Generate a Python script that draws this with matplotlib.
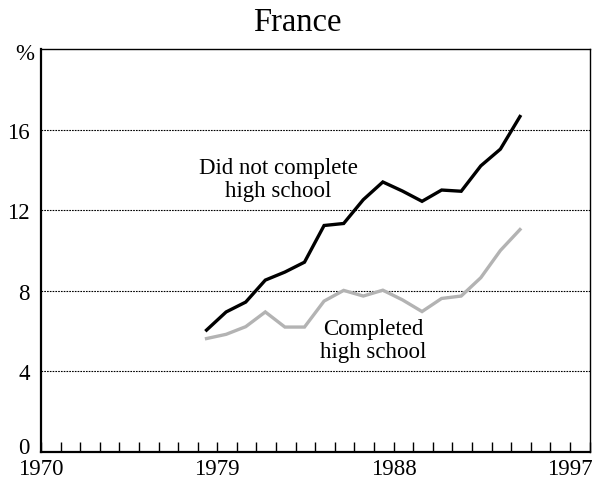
import matplotlib
matplotlib.use("Agg")
import matplotlib.pyplot as plt
import matplotlib.transforms as mtransforms
from matplotlib.ticker import MultipleLocator, FixedLocator

plt.rcParams['font.family'] = ['Liberation Serif', 'DejaVu Serif']

years = list(range(1978, 1995))
not_completed = [6.05, 6.95, 7.44, 8.53, 8.93, 9.42, 11.24, 11.34, 12.52, 13.4,
                 12.95, 12.44, 13.0, 12.94, 14.2, 15.03, 16.65]
completed = [5.63, 5.84, 6.22, 6.95, 6.2, 6.2, 7.49, 8.02, 7.74, 8.03,
             7.55, 6.97, 7.62, 7.74, 8.65, 10.0, 11.04]
x_tick_labels = ["1970", "1979", "1988", "1997"]
y_ticks = [0, 4, 8, 12, 16]

fig = plt.figure(figsize=(5.95, 4.89), dpi=100)
ax = fig.add_axes([0.0689, 0.0736, 0.9219, 0.8242])

xs = [y + 0.45 for y in years]
ax.plot(xs, completed, color='#b3b3b3', lw=2.4, solid_joinstyle='miter')
ax.plot(xs, not_completed, color='black', lw=2.4, solid_joinstyle='miter')

ax.set_xlim(1970, 1998)
ax.set_ylim(0, 20)

ax.xaxis.set_major_locator(FixedLocator([int(t) for t in x_tick_labels]))
ax.set_xticklabels(x_tick_labels)
ax.xaxis.set_minor_locator(MultipleLocator(1))
ax.tick_params(axis='x', which='both', direction='in', length=7, width=1,
               labelsize=16.5, pad=4.5)

ax.set_yticks(y_ticks)
ax.set_yticklabels([str(v) for v in y_ticks])
ax.tick_params(axis='y', which='both', length=0, labelsize=16.5, pad=8)
for v in y_ticks[1:]:
    ax.axhline(v, color='black', lw=0.8, ls=(0, (1.5, 1.0)), zorder=0)

# lift the "0" label a little so it clears the "1970" label
shift = mtransforms.ScaledTranslation(0, 5 / 72, fig.dpi_scale_trans)
for tick in ax.yaxis.get_major_ticks():
    if tick.get_loc() == 0:
        tick.label1.set_transform(tick.label1.get_transform() + shift)

ax.text(-0.012, 19.8, "%", transform=ax.get_yaxis_transform(), ha='right',
        va='center', fontsize=16.5)

for s in ['left', 'bottom']:
    ax.spines[s].set_linewidth(1.6)
for s in ['top', 'right']:
    ax.spines[s].set_linewidth(1.0)

ax.text(1982.1, 13.55, "Did not complete\nhigh school", ha='center', va='center',
        fontsize=16.5, linespacing=1.15)
ax.text(1986.95, 5.55, "Completed\nhigh school", ha='center', va='center',
        fontsize=16.5, linespacing=1.15)

fig.text(0.5, 0.953, "France", ha='center', va='center', fontsize=23.5)

fig.savefig("out.png", dpi=100)
